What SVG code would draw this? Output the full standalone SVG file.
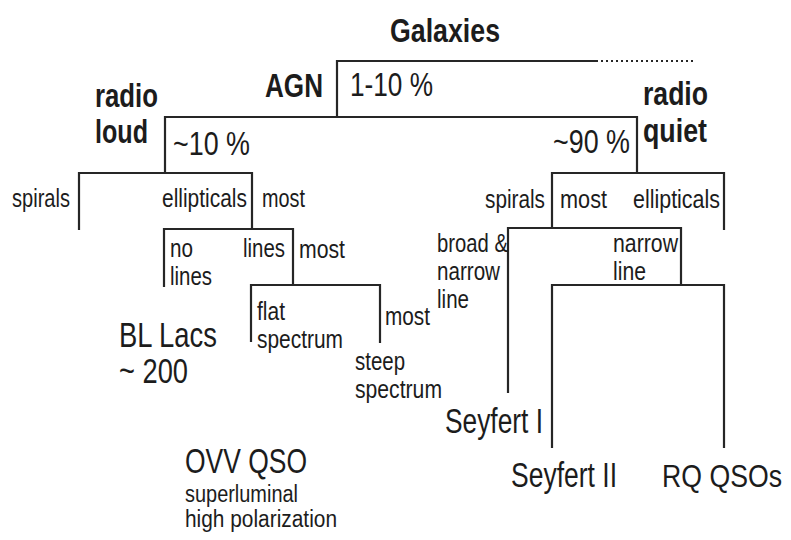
<svg xmlns="http://www.w3.org/2000/svg" width="791" height="540" viewBox="0 0 791 540">
<style>
text{font-family:"Liberation Sans Narrow","Liberation Sans",Arial,sans-serif;fill:#1c1c1c;}
.b{font-weight:bold;font-size:34px;}
.l{font-size:35px;}
.m{font-size:33px;}
.s{font-size:26px;}
.t{font-size:23px;}
.c{fill:none;stroke:#262626;stroke-width:2.2;}
.d{fill:none;stroke:#262626;stroke-width:2.2;stroke-dasharray:2 3;}
</style>
<rect width="791" height="540" fill="#fff"/>
<g id="connectors">
<path class="c" d="M337,117 V61 H598"/>
<path class="d" d="M601,61 H694"/>
<path class="c" d="M165,173 V117 H637 V173"/>
<path class="c" d="M79,230 V173 H252 V229"/>
<path class="c" d="M164,287 V229 H293 V285"/>
<path class="c" d="M251,342 V285 H380 V343"/>
<path class="c" d="M552,228 V173 H724 V230"/>
<path class="c" d="M508,393 V228 H681 V285"/>
<path class="c" d="M552,448 V285 H724 V448"/>
</g>
<g id="galaxies"><text class="b" x="390" y="42" textLength="110" lengthAdjust="spacingAndGlyphs">Galaxies</text></g>
<g id="agn"><text class="b" x="265" y="97" textLength="58" lengthAdjust="spacingAndGlyphs">AGN</text>
<text class="m" x="350" y="96" textLength="83" lengthAdjust="spacingAndGlyphs">1-10 %</text></g>
<g id="radio-loud"><text class="b" x="95" y="107" textLength="63" lengthAdjust="spacingAndGlyphs">radio</text>
<text class="b" x="95" y="143" textLength="53" lengthAdjust="spacingAndGlyphs">loud</text>
<text class="m" x="173" y="155" textLength="77" lengthAdjust="spacingAndGlyphs">~10 %</text></g>
<g id="radio-quiet"><text class="b" x="643" y="105" textLength="65" lengthAdjust="spacingAndGlyphs">radio</text>
<text class="b" x="643" y="142" textLength="64" lengthAdjust="spacingAndGlyphs">quiet</text>
<text class="m" x="553" y="153" textLength="77" lengthAdjust="spacingAndGlyphs">~90 %</text></g>
<g id="rl-spirals"><text class="s" x="12" y="207" textLength="58" lengthAdjust="spacingAndGlyphs">spirals</text></g>
<g id="rl-ellipticals"><text class="s" x="162" y="207" textLength="85" lengthAdjust="spacingAndGlyphs">ellipticals</text>
<text class="s" x="262" y="207" textLength="43" lengthAdjust="spacingAndGlyphs">most</text></g>
<g id="no-lines"><text class="s" x="170" y="257" textLength="23" lengthAdjust="spacingAndGlyphs">no</text>
<text class="s" x="170" y="285" textLength="42" lengthAdjust="spacingAndGlyphs">lines</text></g>
<g id="lines"><text class="s" x="243" y="257" textLength="42" lengthAdjust="spacingAndGlyphs">lines</text>
<text class="s" x="299" y="258" textLength="46" lengthAdjust="spacingAndGlyphs">most</text></g>
<g id="flat-spectrum"><text class="s" x="257" y="320" textLength="28" lengthAdjust="spacingAndGlyphs">flat</text>
<text class="s" x="257" y="348" textLength="86" lengthAdjust="spacingAndGlyphs">spectrum</text></g>
<g id="steep-spectrum"><text class="s" x="385" y="325" textLength="45" lengthAdjust="spacingAndGlyphs">most</text>
<text class="s" x="355" y="370" textLength="50" lengthAdjust="spacingAndGlyphs">steep</text>
<text class="s" x="355" y="398" textLength="87" lengthAdjust="spacingAndGlyphs">spectrum</text></g>
<g id="bl-lacs"><text class="l" x="119" y="347" textLength="98" lengthAdjust="spacingAndGlyphs">BL Lacs</text>
<text class="l" x="119" y="383" textLength="69" lengthAdjust="spacingAndGlyphs">~ 200</text></g>
<g id="ovv-qso"><text class="l" x="185" y="473" textLength="122" lengthAdjust="spacingAndGlyphs">OVV QSO</text>
<text class="t" x="185" y="502" textLength="113" lengthAdjust="spacingAndGlyphs">superluminal</text>
<text class="t" x="185" y="527" textLength="152" lengthAdjust="spacingAndGlyphs">high polarization</text></g>
<g id="rq-spirals"><text class="s" x="485" y="208" textLength="60" lengthAdjust="spacingAndGlyphs">spirals</text>
<text class="s" x="560" y="208" textLength="47" lengthAdjust="spacingAndGlyphs">most</text></g>
<g id="rq-ellipticals"><text class="s" x="633" y="208" textLength="87" lengthAdjust="spacingAndGlyphs">ellipticals</text></g>
<g id="broad-narrow"><text class="s" x="437" y="252" textLength="71" lengthAdjust="spacingAndGlyphs">broad &amp;</text>
<text class="s" x="437" y="280" textLength="63" lengthAdjust="spacingAndGlyphs">narrow</text>
<text class="s" x="437" y="308" textLength="32" lengthAdjust="spacingAndGlyphs">line</text></g>
<g id="narrow-line"><text class="s" x="613" y="252" textLength="65" lengthAdjust="spacingAndGlyphs">narrow</text>
<text class="s" x="613" y="280" textLength="33" lengthAdjust="spacingAndGlyphs">line</text></g>
<g id="seyfert-1"><text class="l" x="445" y="433" textLength="98" lengthAdjust="spacingAndGlyphs">Seyfert I</text></g>
<g id="seyfert-2"><text class="l" x="511" y="487" textLength="106" lengthAdjust="spacingAndGlyphs">Seyfert II</text></g>
<g id="rq-qsos"><text x="662" y="487" style="font-size:32px" textLength="120" lengthAdjust="spacingAndGlyphs">RQ QSOs</text></g>
</svg>
